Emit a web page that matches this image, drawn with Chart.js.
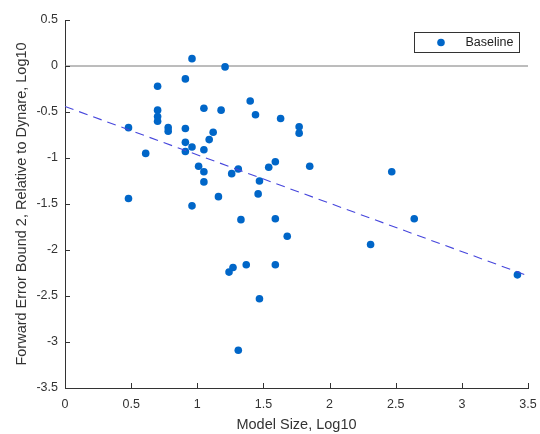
<!DOCTYPE html>
<html>
<head>
<meta charset="utf-8">
<script src="https://cdn.jsdelivr.net/npm/chart.js@4/dist/chart.umd.min.js"></script>
<style>
  html, body { margin: 0; padding: 0; background: #fff; }
  #wrap { width: 540px; height: 434px; }
</style>
</head>
<body>
<div id="wrap"><canvas id="errChart" width="540" height="434"></canvas></div>
<script>
// === Data: model size vs. forward error bound 2 (both log10) ===
const modelSize = [
  0.48, 0.61, 0.48, 0.70, 0.70, 0.70, 0.70, 0.78, 0.78, 0.91,
  0.96, 0.91, 0.91, 0.91, 0.96, 1.05, 1.18, 1.21, 1.12, 1.09,
  1.05, 1.01, 1.05, 1.05, 1.16, 1.40, 1.44, 1.63, 1.77, 1.77,
  1.26, 1.31, 1.47, 1.54, 1.59, 1.46, 0.96, 1.33, 1.59, 1.68,
  1.24, 1.27, 1.37, 1.59, 1.47, 1.31, 1.85, 2.47, 2.64, 2.31,
  3.42
];
const errorBound = [
  -0.67, -0.95, -1.44, -0.22, -0.48, -0.55, -0.60, -0.67, -0.71, -0.14,
   0.08, -0.68, -0.83, -0.93, -0.88, -0.46, -0.48, -0.01, -0.72, -0.80,
  -0.91, -1.09, -1.15, -1.26, -1.42, -0.38, -0.53, -0.57, -0.66, -0.73,
  -1.17, -1.12, -1.25, -1.10, -1.04, -1.39, -1.52, -1.67, -1.66, -1.85,
  -2.24, -2.19, -2.16, -2.16, -2.53, -3.09, -1.09, -1.15, -1.66, -1.94,
  -2.27
];

// least-squares fit endpoints and the zero reference
const fitX = [0, 3.5];
const fitY = [-0.44, -2.28];
const zeroX = [0, 3.5];
const zeroY = [0, 0];

const xTickValues = [0, 0.5, 1, 1.5, 2, 2.5, 3, 3.5];
const yTickValues = [-3.5, -3, -2.5, -2, -1.5, -1, -0.5, 0, 0.5];

const FONT = "'Liberation Sans', Arial, Helvetica, sans-serif";
const DOT = "#0066c8";
const INK = "#333333";

const toPoints = (xs, ys) => xs.map((x, i) => ({ x: x, y: ys[i] }));

// === Inward tick marks (matlab style) ===
const inwardTicks = {
  id: "inwardTicks",
  afterDatasetsDraw(chart) {
    const { ctx, chartArea, scales } = chart;
    const len = 5;
    ctx.save();
    ctx.strokeStyle = INK;
    ctx.lineWidth = 1;
    ctx.beginPath();
    xTickValues.forEach(v => {
      const px = Math.round(scales.x.getPixelForValue(v)) + 0.5;
      ctx.moveTo(px, chartArea.bottom);
      ctx.lineTo(px, chartArea.bottom - len);
    });
    yTickValues.forEach(v => {
      const py = Math.round(scales.y.getPixelForValue(v)) + 0.5;
      ctx.moveTo(chartArea.left, py);
      ctx.lineTo(chartArea.left + len, py);
    });
    ctx.stroke();
    ctx.restore();
  }
};

// === Boxed legend in the upper right ===
const boxLegend = {
  id: "boxLegend",
  afterDraw(chart) {
    const { ctx, chartArea } = chart;
    const ds = chart.data.datasets[0];
    const right = chartArea.right - 8.5;
    const top = chartArea.top + 12.5;
    const w = 105, h = 20;
    const left = right - w;
    ctx.save();
    ctx.fillStyle = "#fff";
    ctx.fillRect(left, top, w, h);
    ctx.strokeStyle = INK;
    ctx.lineWidth = 1;
    ctx.strokeRect(left, top, w, h);
    ctx.fillStyle = ds.backgroundColor;
    ctx.beginPath();
    ctx.arc(left + 26.5, top + h / 2, 3.8, 0, Math.PI * 2);
    ctx.fill();
    ctx.fillStyle = "#222";
    ctx.font = "12.5px " + FONT;
    ctx.textBaseline = "middle";
    ctx.fillText(ds.label, left + 51, top + h / 2 + 0.5);
    ctx.restore();
  }
};

const ctx = document.getElementById("errChart").getContext("2d");
const errChart = new Chart(ctx, {
  type: "scatter",
  data: {
    datasets: [
      {
        label: "Baseline",
        data: toPoints(modelSize, errorBound),
        backgroundColor: DOT,
        borderWidth: 0,
        pointRadius: 3.8,
        pointHoverRadius: 3.8,
        order: 2
      },
      {
        label: "fit",
        data: toPoints(fitX, fitY),
        showLine: true,
        borderColor: "#4646dc",
        borderWidth: 1.1,
        borderDash: [9, 6],
        pointRadius: 0,
        order: 1
      },
      {
        label: "zero",
        data: toPoints(zeroX, zeroY),
        showLine: true,
        borderColor: "#7a7a7a",
        borderWidth: 1,
        pointRadius: 0,
        order: 3
      }
    ]
  },
  options: {
    responsive: false,
    animation: false,
    events: [],
    layout: { padding: { top: 20, right: 12, left: 0, bottom: 0 } },
    plugins: {
      legend: { display: false },
      tooltip: { enabled: false }
    },
    scales: {
      x: {
        type: "linear",
        min: 0,
        max: 3.5,
        afterBuildTicks: s => { s.ticks = xTickValues.map(v => ({ value: v })); },
        afterFit: s => {
          s.height = 46;
          // let the last label hang into the right margin
          s.paddingRight = 0;
          s.paddingLeft = 0;
        },
        grid: { drawOnChartArea: false, drawTicks: false },
        border: { display: true, color: INK, width: 1 },
        ticks: {
          color: INK,
          padding: 9,
          maxRotation: 0,
          font: { family: FONT, size: 12.5 },
          callback: v => String(v)
        },
        title: {
          display: true,
          text: "Model Size, Log10",
          color: INK,
          padding: { top: 7, bottom: 0 },
          font: { family: FONT, size: 14.5 }
        }
      },
      y: {
        type: "linear",
        min: -3.5,
        max: 0.5,
        afterBuildTicks: s => { s.ticks = yTickValues.map(v => ({ value: v })); },
        afterFit: s => { s.width = 65; },
        grid: { drawOnChartArea: false, drawTicks: false },
        border: { display: true, color: INK, width: 1 },
        ticks: {
          color: INK,
          padding: 7,
          font: { family: FONT, size: 12.5 },
          callback: v => String(v)
        },
        title: {
          display: true,
          text: "Forward Error Bound 2, Relative to Dynare, Log10",
          color: INK,
          padding: { top: 13, bottom: 0 },
          font: { family: FONT, size: 14.5 }
        }
      }
    }
  },
  plugins: [inwardTicks, boxLegend]
});
</script>
</body>
</html>
